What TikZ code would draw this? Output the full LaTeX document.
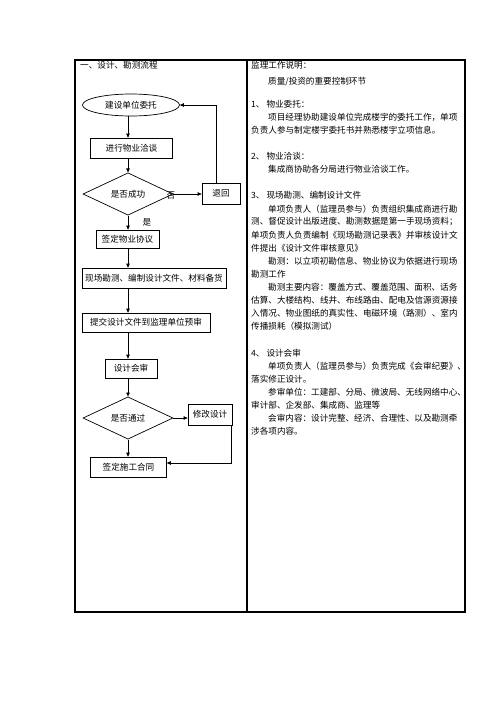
\documentclass[tikz,border=0pt]{standalone}
\usepackage{fontspec}
\setmainfont{Noto Sans CJK SC}
\usetikzlibrary{shapes.geometric, arrows.meta, positioning}

\begin{document}
\begin{tikzpicture}[x=1pt, y=-1pt, font=\fontsize{8.6}{10}\selectfont,
  box/.style={draw, line width=0.7pt, inner sep=0pt, minimum height=20pt},
  decision/.style={draw, diamond, line width=0.7pt, inner sep=0pt},
  arr/.style={line width=0.7pt, -{Triangle[length=4pt, width=3.5pt]}},
  tableline/.style={line width=1.1pt},
  notetext/.style={anchor=west, inner sep=0pt}]
  \useasboundingbox (0,0) rectangle (496,702);

  % table
  \draw[tableline] (75,60) rectangle (465,612);
  \draw[tableline] (247,60) -- (247,612);

  % left column: flow
  \node[notetext] (title) at (80,65) {一、设计、勘测流程};

  \node[draw, ellipse, line width=0.7pt, minimum width=97pt, minimum height=22pt, inner sep=0pt] (entrust) at (131,105) {建设单位委托};
  \node[box, minimum width=82pt] (talk) at (131.5,148) {进行物业洽谈};
  \node[decision, minimum width=90pt, minimum height=22pt] (success) at (128,194) {是否成功};
  \node[box, minimum width=38pt, minimum height=21pt] (back) at (221,193.5) {退回};
  \node[box, minimum width=63pt, minimum height=18pt] (agree) at (127.5,239) {签定物业协议};
  \node[box, minimum width=144pt] (survey) at (154,278) {现场勘测、编制设计文件、材料备货};
  \node[box, minimum width=128pt, minimum height=19pt] (submit) at (146,322.5) {提交设计文件到监理单位预审};
  \node[box, minimum width=52pt, minimum height=19pt] (review) at (131,368.5) {设计会审};
  \node[decision, minimum width=90pt, minimum height=27pt] (pass) at (128,418) {是否通过};
  \node[box, minimum width=44pt, minimum height=21pt] (revise) at (210,414.5) {修改设计};
  \node[box, minimum width=76pt] (contract) at (128.5,467) {签定施工合同};

  \node (yes) at (147,222) {是};
  \node (no) at (171,195) {否};

  \draw[arr] (entrust.south -| success) -- (talk.north -| success);
  \draw[arr] (talk.south -| success) -- (success.north);
  \draw[arr] (success.east) -- (success.east -| back.west);
  \draw[arr] ([xshift=-5pt]back.north) |- (entrust.east);
  \draw[arr] (success.south) -- (agree.north -| success);
  \draw[arr] (agree.south -| success) -- (survey.north -| success);
  \draw[arr] (survey.south -| success) -- (submit.north -| success);
  \draw[arr] (submit.south -| success) -- (review.north -| success);
  \draw[arr] (review.south -| success) -- (pass.north);
  \draw[arr] (pass.east) -- (pass.east -| revise.west);
  \draw[arr] (pass.south) -- (contract.north -| pass);
  \draw[arr] ([xshift=-1pt]revise.south east) |- ([yshift=4pt]contract.east);

  % right column: notes
  \node[notetext] (note) at (251,65) {监理工作说明：};
  \node[notetext] (focus) at (268,82) {质量/投资的重要控制环节};

  \foreach \n/\x/\t in {0/251/{1、 物业委托：},
    1/268/{项目经理协助建设单位完成楼宇的委托工作，单项},
    2/251/{负责人参与制定楼宇委托书并熟悉楼宇立项信息。},
    4/251/{2、 物业洽谈：},
    5/268/{集成商协助各分局进行物业洽谈工作。},
    7/251/{3、 现场勘测、编制设计文件},
    8/268/{单项负责人（监理员参与）负责组织集成商进行勘},
    9/251/{测、督促设计出版进度、勘测数据是第一手现场资料；},
    10/251/{单项负责人负责编制《现场勘测记录表》并审核设计文},
    11/251/{件提出《设计文件审核意见》},
    12/268/{勘测：以立项初勘信息、物业协议为依据进行现场},
    13/251/{勘测工作},
    14/268/{勘测主要内容：覆盖方式、覆盖范围、面积、话务},
    15/251/{估算、大楼结构、线井、布线路由、配电及信源资源接},
    16/251/{入情况、物业图纸的真实性、电磁环境（路测）、室内},
    17/251/{传播损耗（模拟测试）},
    19/251/{4、 设计会审},
    20/268/{单项负责人（监理员参与）负责完成《会审纪要》、},
    21/251/{落实修正设计。},
    22/268/{参审单位：工建部、分局、微波局、无线网络中心、},
    23/251/{审计部、企发部、集成商、监理等},
    24/268/{会审内容：设计完整、经济、合理性、以及勘测牵},
    25/251/{涉各项内容。}}
    \node[notetext] (line\n) at (\x, 104+13.1*\n) {\t};
\end{tikzpicture}
\end{document}
